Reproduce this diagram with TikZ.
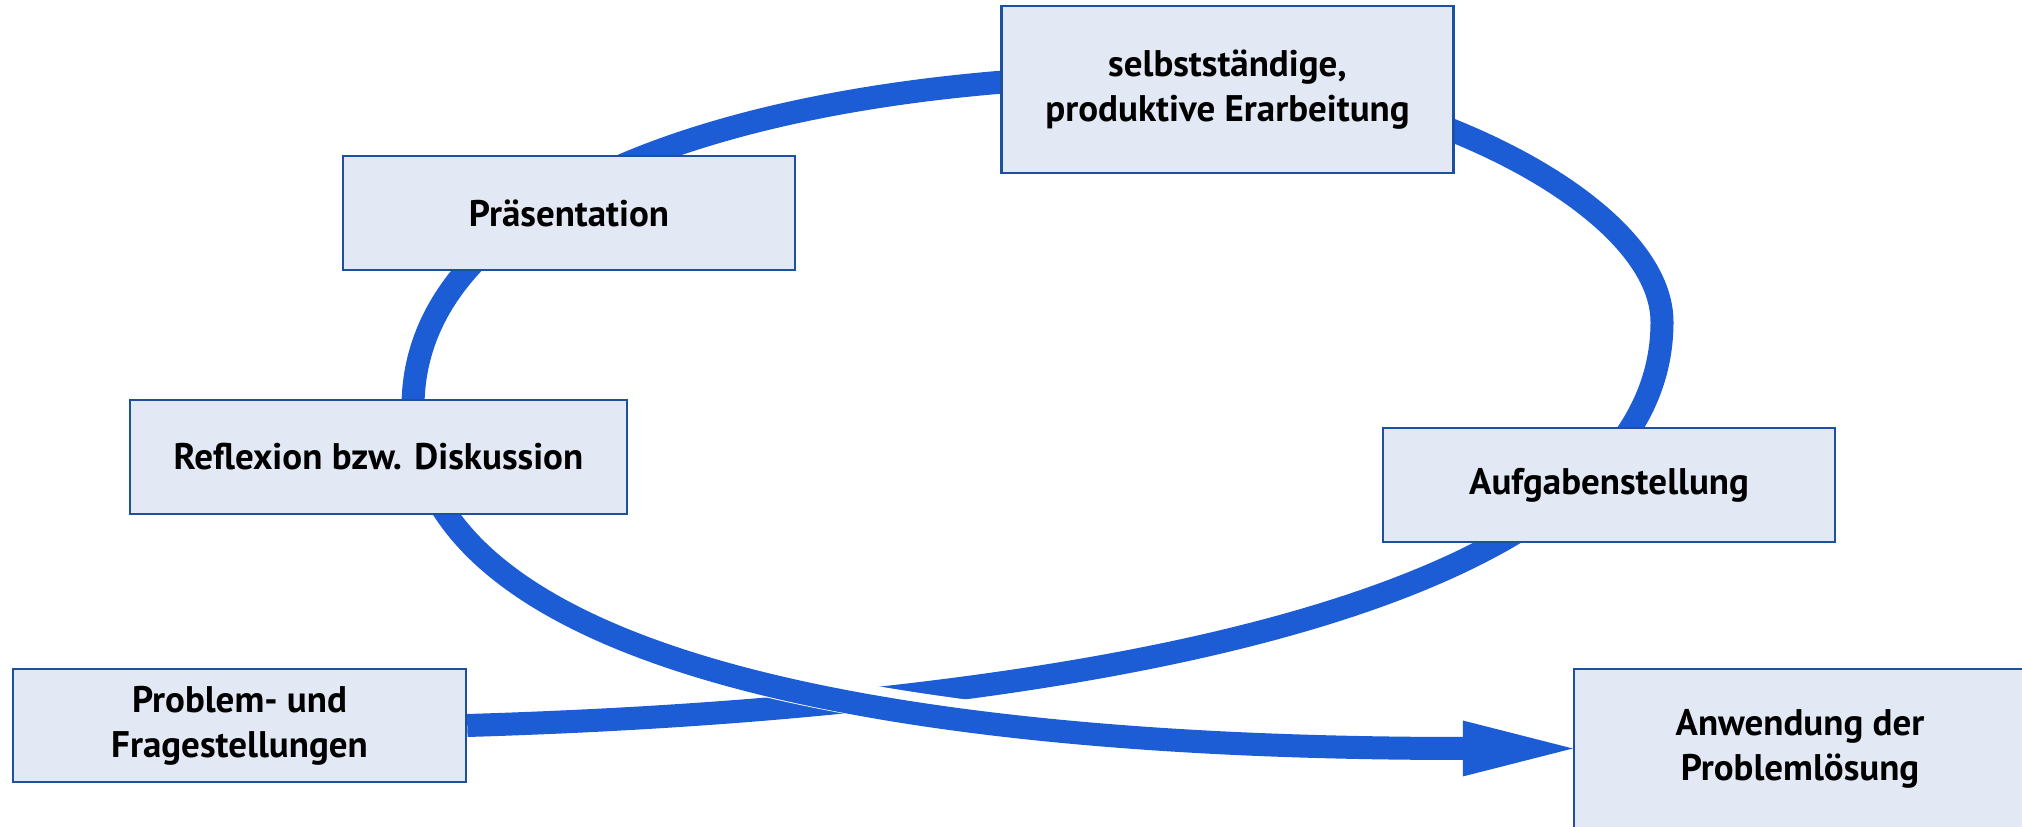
\documentclass[tikz,border=0pt]{standalone}
\usepackage{fontspec}
\setmainfont{PT Sans}
\usetikzlibrary{arrows.meta,backgrounds}
\definecolor{loopblue}{RGB}{28,92,212}
\definecolor{boxfill}{RGB}{227,233,244}
\definecolor{boxline}{RGB}{30,80,160}

\begin{document}
\begin{tikzpicture}[x=1pt,y=1pt,
	phase/.style={draw=boxline, fill=boxfill, line width=2.5pt, minimum width=452pt, minimum height=114pt, inner sep=0pt, align=center, font=\fontsize{37}{45}\selectfont\bfseries},
	loopline/.style={draw=loopblue, line width=23pt}]
	%%%%% START %%%%%
	\useasboundingbox (0,0) rectangle (2022,827);
	
	\node[phase, minimum height=167pt] (sel) at (1227.5,737.5) {selbstständige,\\produktive Erarbeitung};
	\node[phase] (pra) at (569,614) {Präsentation};
	\node[phase, minimum width=497pt] (ref) at (378.5,370) {Reflexion bzw. Diskussion};
	\node[phase] (auf) at (1609,342) {Aufgabenstellung};
	\node[phase, minimum width=453pt, minimum height=113pt] (prob) at (239.5,101.5) {Problem- und\\Fragestellungen};
	\node[phase, minimum height=159pt] (anw) at (1800,78.5) {Anwendung der\\Problemlösung};
	
	% turning points of the loop
	\coordinate (east) at (1662,505);
	\coordinate (top) at (1180,752);
	\coordinate (west) at (413,420);
	
	\begin{scope}[on background layer]
		% the loop, from the problem round to the west side
		\draw[loopline] (prob.east) .. controls (1116,121) and (1662,232) .. (east)
			.. controls (1662,625) and (1400,752) .. (top)
			.. controls (760,752) and (413,640) .. (west);
		
		% last part crosses over the first one
		\draw[white, line width=33pt] (west) .. controls (413,170) and (874,78.5) .. (anw.west);
		\draw[loopline, -{Triangle[length=110pt,width=56pt,line width=0pt]}] (west) .. controls (413,170) and (874,78.5) .. (anw.west);
	\end{scope}
	
	%%%%% END %%%%%
\end{tikzpicture}
\end{document}
